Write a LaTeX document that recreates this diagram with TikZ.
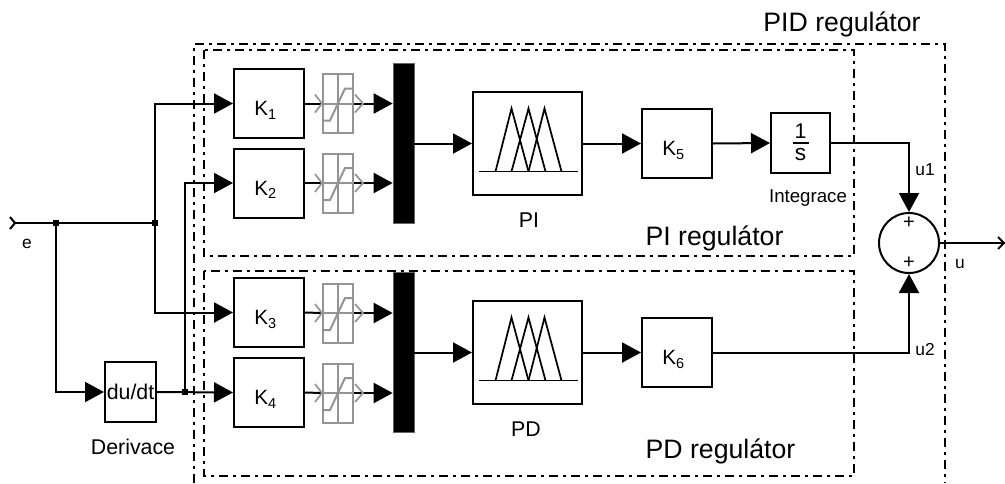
\documentclass[tikz,border=0pt]{standalone}
\usepackage{fontspec}
\setmainfont{Liberation Sans}
\usetikzlibrary{arrows.meta,calc}
\tikzset{
  x=0.75pt,y=-0.75pt,
  wire/.style={line width=1.5pt,draw=black},
  flow/.style={wire,-{Triangle[length=14.25pt,width=15pt]},shorten >=0pt},
  blockbox/.style={draw=black,line width=1.5pt,fill=white,rectangle,inner sep=0pt,text=black},
  gainbox/.style={blockbox,minimum width=52.5pt,minimum height=51.75pt},
  gaintext/.style={inner sep=0pt,font=\fontsize{15.5}{18}\selectfont},
  fuzzybox/.style={blockbox,minimum width=81.75pt,minimum height=77.25pt},
  satbox/.style={draw=black!42,line width=1.5pt,rectangle,fill=white,minimum width=22.5pt,minimum height=44.25pt,inner sep=0pt},
  muxbar/.style={fill=black,draw=black!60,line width=0.5pt,rectangle,minimum width=15.75pt,minimum height=120pt,inner sep=0pt},
  region/.style={draw=black,line width=1.5pt,dash pattern=on 6.5pt off 4pt on 2pt off 4pt},
  bigtext/.style={font=\fontsize{20}{22}\selectfont,inner sep=0pt},
  smalltext/.style={font=\fontsize{16}{18}\selectfont,inner sep=0pt},
  dot/.style={fill=black,rectangle,minimum size=4.5pt,inner sep=0pt},
}
\newcommand{\satmark}[1]{%
  \draw[draw=black!42,line width=1.5pt] (#1.north) -- (#1.south) (#1.west) -- (#1.east);
  \draw[draw=black!42,line width=1.5pt] ($(#1.center)+(-14,17)$) -- ++(6,0) -- ++(15,-32) -- ++(8,0);
}
\newcommand{\fuzzymark}[1]{%
  \begin{scope}[shift={(#1.center)},line width=1.3pt]
    \draw (-49,28) -- (50,28);
    \draw (-32,28) -- (-16,-35) -- (1,28);
    \draw (-16,28) -- (1,-35) -- (18,28);
    \draw (1,28) -- (17,-35) -- (34,28);
  \end{scope}
}
\begin{document}
\begin{tikzpicture}
\useasboundingbox (0,0) rectangle (1005,483);
\clip (0,0) rectangle (1005,483);
% regions
\draw[region] (194,483) -- (194,44) -- (945,44) -- (945,483);
\draw[region] (204,50) rectangle (854,256);
\draw[region] (204,271) rectangle (854,476);
% blocks
\node[gainbox] (k1) at (269,103.5) {};
\node[gainbox] (k2) at (269,183) {};
\node[gainbox] (k3) at (269,312.5) {};
\node[gainbox] (k4) at (269,392.5) {};
\node[gainbox] (k5) at (677,143.5) {};
\node[gainbox] (k6) at (677,352.5) {};
\foreach \n in {1,...,6}{
  \node[gaintext] (kt\n) at ($(k\n.center)+(-3.5,7)$) {K\textsubscript{\n}};
}
\node[satbox] (s1) at (338,103.5) {};
\node[satbox] (s2) at (338,183) {};
\node[satbox] (s3) at (338,313) {};
\node[satbox] (s4) at (338,393) {};
\node[muxbar] (m1) at (403.5,143) {};
\node[muxbar] (m2) at (403.5,352.5) {};
\node[fuzzybox] (f1) at (527.5,143.5) {};
\node[fuzzybox] (f2) at (527.5,352.5) {};
\fuzzymark{f1}
\fuzzymark{f2}
\node[blockbox,minimum width=44.25pt,minimum height=45pt] (int) at (800.5,143) {};
\node[inner sep=0pt,font=\fontsize{16}{18}\selectfont] (intnum) at (800.5,131) {1};
\node[inner sep=0pt,font=\fontsize{17}{18}\selectfont] (intden) at (800.5,155) {s};
\draw[line width=1.3pt] ($(int.center)+(-8,0)$) -- ($(int.center)+(8,0)$);
\node[blockbox,minimum width=38.25pt,minimum height=45pt,font=\fontsize{16}{18}\selectfont] (der) at (130.5,392) {du/dt};
\node[circle,draw=black,line width=1.5pt,minimum size=45pt,inner sep=0pt] (sum) at (909,243) {};
\node[inner sep=0pt,font=\fontsize{15}{17}\selectfont] (plus1) at (909,223) {+};
\node[inner sep=0pt,font=\fontsize{15}{17}\selectfont] (plus2) at (909,263) {+};
% terminals and junctions
\coordinate (in) at (15,223);
\coordinate (out) at (1005,243);
\node[dot] (j1) at (56,223) {};
\node[dot] (j2) at (155,223) {};
\node[dot] (j3) at (185,392) {};
% wiring
\draw[wire] (in) -- (j2);
\draw[wire] (10,217) -- (15,223) -- (10,229);
\draw[flow] (j2) |- (k1.west);
\draw[flow] (j2) |- (k3.west);
\draw[flow] (j1) |- (der.west);
\draw[flow] (j3) |- (k2.west);
\draw[flow] (der.east) -- (k4.west);
\foreach \k/\s/\m in {k1/s1/m1,k2/s2/m1,k3/s3/m2,k4/s4/m2}{
  \draw[wire] (\k.east) -- (\s.west);
  \draw[flow] (\s.east) -- (\s.east-|\m.west);
}
\satmark{s1}\satmark{s2}\satmark{s3}\satmark{s4}
\foreach \s in {s1,s2,s3,s4}{
  \draw[draw=black!42,line width=1.3pt] ($(\s.west)+(-7,-9)$) -- (\s.west) -- ($(\s.west)+(-7,9)$);
  \draw[draw=black!42,line width=1.3pt] ($(\s.east)+(1,-9)$) -- ($(\s.east)+(9,0)$) -- ($(\s.east)+(1,9)$);
}
\draw[flow] (m1.east|-f1.west) -- (f1.west);
\draw[flow] (m2.east|-f2.west) -- (f2.west);
\draw[flow] (f1.east) -- (k5.west);
\draw[flow] (f2.east) -- (k6.west);
\draw[flow] (k5.east) -- (int.west);
\draw[flow] (int.east) -| (sum.north);
\draw[flow] (k6.east) -| (sum.south);
\draw[wire] (sum.east) -- (out);
\draw[wire] (998,237) -- (1004,243) -- (998,249);
% labels
\node[bigtext] (lpid) at (842,24) {PID regulátor};
\node[bigtext] (lpi) at (714.5,238) {PI regulátor};
\node[bigtext] (lpd) at (720.5,451) {PD regulátor};
\node[smalltext] (l1) at (529,220) {PI};
\node[smalltext] (l2) at (526,429) {PD};
\node[smalltext,font=\fontsize{14}{16}\selectfont] (l3) at (808,198) {Integrace};
\node[smalltext] (l4) at (133,447) {Derivace};
\node[smalltext,font=\fontsize{13}{15}\selectfont] (l5) at (27,244) {e};
\node[smalltext,font=\fontsize{13}{15}\selectfont] (l6) at (960,264) {u};
\node[smalltext,font=\fontsize{13}{15}\selectfont] (l7) at (925,170) {u1};
\node[smalltext,font=\fontsize{13}{15}\selectfont] (l8) at (925,350) {u2};
\end{tikzpicture}
\end{document}
